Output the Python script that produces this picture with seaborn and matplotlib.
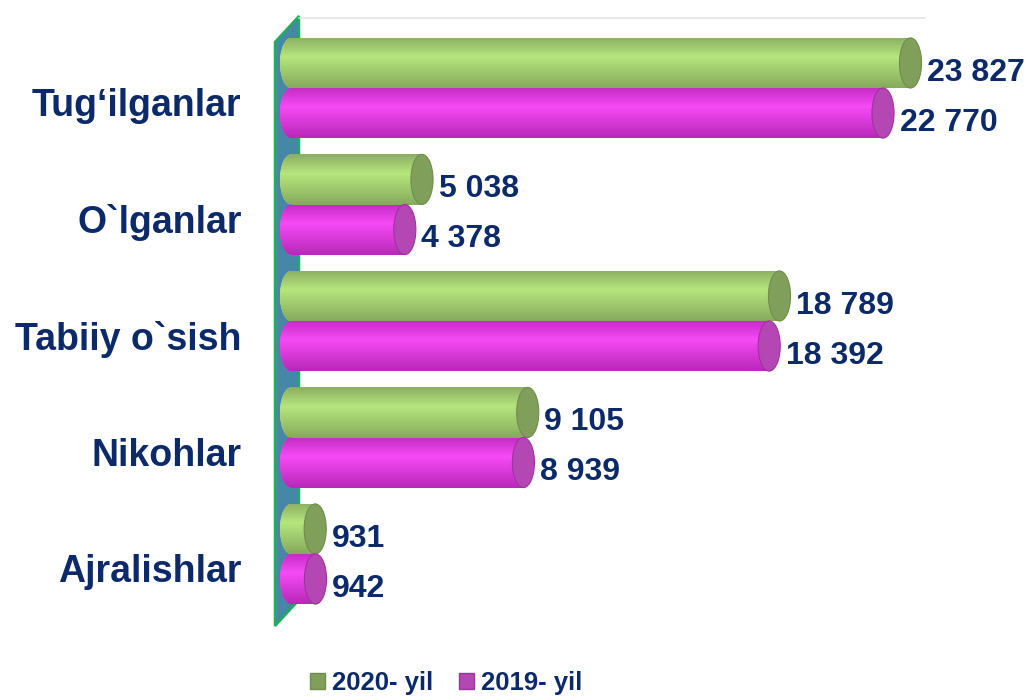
"""
Demografik ko'rsatkichlar: 2020 va 2019 yillar taqqoslamasi
- 3D silindr ko'rinishidagi gorizontal ustunlar
"""
import numpy as np
import pandas as pd
import matplotlib
matplotlib.use("Agg")
import matplotlib.pyplot as plt
import matplotlib.transforms as mtransforms
import seaborn as sns
from matplotlib.patches import Ellipse, Polygon, Patch
from matplotlib.colors import to_rgb

OUT_PATH = "out.png"

categories = ["Tug‘ilganlar", "O`lganlar", "Tabiiy o`sish", "Nikohlar", "Ajralishlar"]
years = ["2020- yil", "2019- yil"]
values_2020 = [23827, 5038, 18789, 9105, 931]
values_2019 = [22770, 4378, 18392, 8939, 942]

NAVY = "#0c2a6a"
# (tepa, yorug', past, qopqoq, qopqoq chizig'i)
SHADES = [
    ("#8cae62", "#b6e67e", "#86aa5c", "#7f9f5a", "#6f8c4e"),
    ("#c22cc2", "#f64af6", "#b828b8", "#b547b5", "#9a359a"),
]
CAP_W = 850  # silindr qopqog'i kengligi (ma'lumot birligida)

sns.set_theme(style="white")
plt.rcParams["font.family"] = ["Liberation Sans", "DejaVu Sans"]


def gradient(top, light, bottom, n=64):
    t = np.linspace(0, 1, n)
    stops = [0.0, 0.38, 1.0]
    cols = np.array([to_rgb(top), to_rgb(light), to_rgb(bottom)])
    arr = np.stack([np.interp(t, stops, cols[:, k]) for k in range(3)], axis=1)
    return arr[:, None, :]


df = pd.DataFrame({
    "category": categories * 2,
    "year": [years[0]] * len(categories) + [years[1]] * len(categories),
    "value": values_2020 + values_2019,
})

fig = plt.figure(figsize=(10.33, 6.96), dpi=100)
ax = fig.add_axes([275 / 1033, 70 / 696, 650 / 1033, 608 / 696])
ax.set_zorder(1)
ax.patch.set_visible(False)

sns.barplot(
    data=df, y="category", x="value", hue="year", orient="h",
    palette=[SHADES[0][1], SHADES[1][1]], width=0.86, saturation=1,
    errorbar=None, legend=False, ax=ax,
)

XLIM = (-615, 24385)
YLIM = (4.618, -0.601)

for container, shade in zip(ax.containers, SHADES):
    grad = gradient(shade[0], shade[1], shade[2])
    for bar in container:
        w, h, y0 = bar.get_width(), bar.get_height(), bar.get_y()
        yc = y0 + h / 2
        bar.set_zorder(2)
        bar.set_edgecolor("none")
        # chap yumaloq uchi
        left = Ellipse((0, yc), CAP_W, h, fc=shade[1], ec="none", zorder=2)
        ax.add_patch(left)
        im = ax.imshow(grad, extent=[-CAP_W / 2, CAP_W / 2, y0 + h, y0],
                       aspect="auto", zorder=3, interpolation="bilinear")
        im.set_clip_path(left)
        # tana
        im = ax.imshow(grad, extent=[0, w, y0 + h, y0],
                       aspect="auto", zorder=3, interpolation="bilinear")
        im.set_clip_path(bar)
        # o'ng qopqoq
        ax.add_patch(Ellipse((w, yc), CAP_W, h, fc=shade[3], ec=shade[4],
                             lw=0.8, zorder=4))
        ax.annotate(f"{int(w):,}".replace(",", " "), xy=(w, yc),
                    xytext=(12, -7), textcoords="offset points",
                    ha="left", va="center", fontsize=23, fontweight="bold",
                    color=NAVY, zorder=5, annotation_clip=False)

ax.set_xlim(*XLIM)
ax.set_ylim(*YLIM)
ax.set_aspect("auto")
ax.set_xticks([])
ax.set_xlabel("")
ax.set_ylabel("")
ax.tick_params(axis="y", length=0, pad=24)
shift = mtransforms.ScaledTranslation(0, -14 / 100, fig.dpi_scale_trans)
for lab in ax.get_yticklabels():
    lab.set_fontsize(27)
    lab.set_fontweight("bold")
    lab.set_color(NAVY)
    lab.set_transform(lab.get_transform() + shift)
for s in ax.spines.values():
    s.set_visible(False)

# yuqori chiziq
ax.axhline(YLIM[1], xmin=24 / 650, xmax=1, color="#e3e3e3", lw=1.2,
           clip_on=False, zorder=1)

# chap devor (3D)
wall_px = [(275, 42), (299, 16), (299, 600), (275, 626)]
wall = Polygon([(x / 1033, 1 - y / 696) for x, y in wall_px], closed=True,
               transform=fig.transFigure, fc="#4686a6", ec="#1fae5c",
               lw=1.8, zorder=0.5)
fig.add_artist(wall)

handles = [Patch(fc=SHADES[0][3], ec=SHADES[0][4]),
           Patch(fc=SHADES[1][3], ec=SHADES[1][4])]
fig.legend(handles, years, loc="center", bbox_to_anchor=(446 / 1033, 1 - 683 / 696),
           ncol=2, frameon=False, prop={"size": 18.5, "weight": "bold"},
           labelcolor=NAVY, handlelength=0.6, handleheight=0.6,
           handletextpad=0.25, columnspacing=1.0)

fig.savefig(OUT_PATH, dpi=100)
print(f"Saved: {OUT_PATH}")
